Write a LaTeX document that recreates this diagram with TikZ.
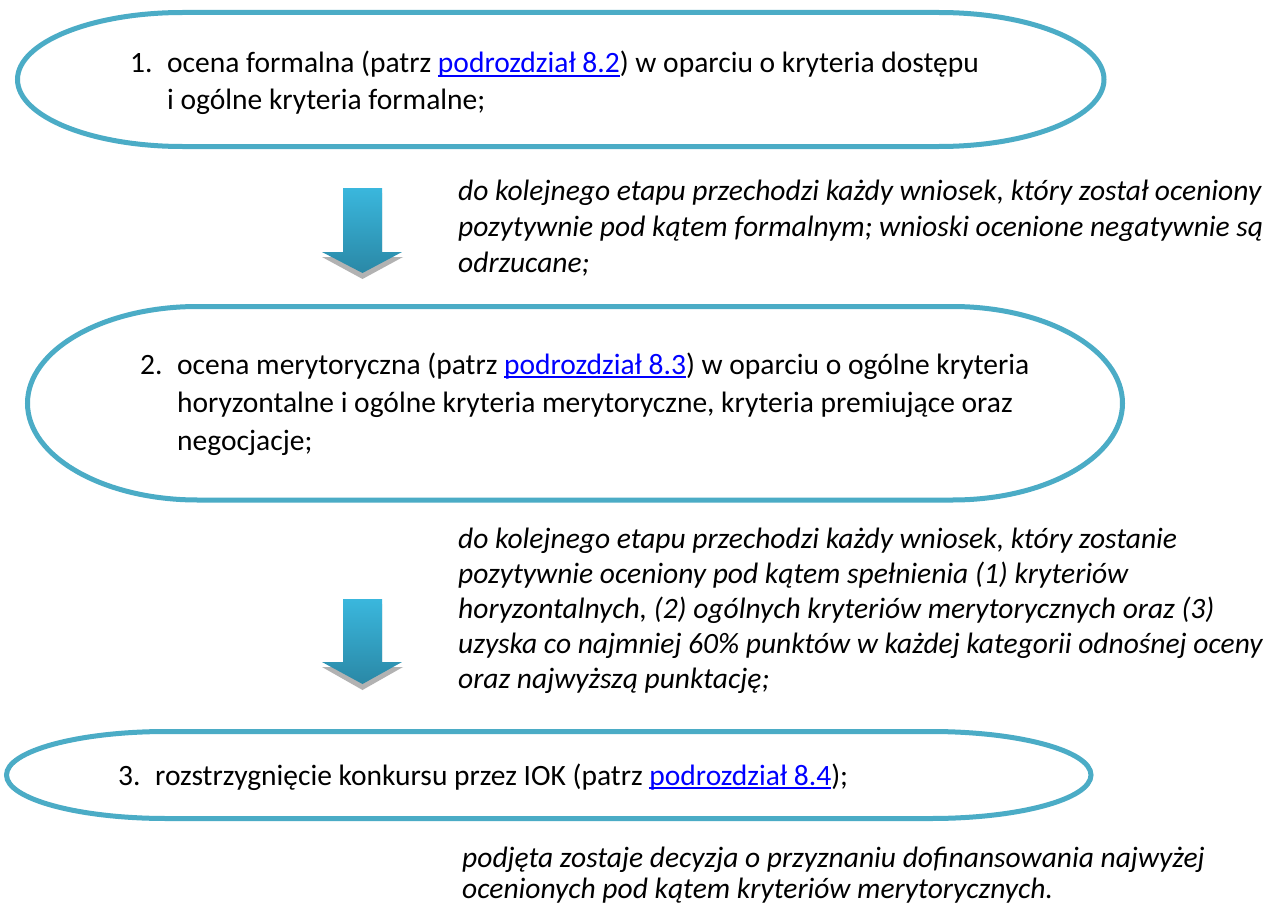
\documentclass[tikz,border=0pt]{standalone}
\usepackage{fontspec}
\setmainfont{Carlito}
\definecolor{ringc}{HTML}{4BACC6}
\definecolor{linkblue}{HTML}{0000FF}
\definecolor{arrtop}{HTML}{3AB7DD}
\definecolor{arrbot}{HTML}{2A88A6}
\newcommand\lnk[1]{{\color{linkblue}\setbox0\hbox{#1}\rlap{\rule[-0.13em]{\wd0}{0.055em}}\box0}}
\newcommand\stadium[5]{%
  \draw[ringline] (#1+#5,#2) -- (#3-#5,#2)
    arc[start angle=-90,end angle=90,x radius=#5,y radius={(#4-#2)/2}]
    -- (#1+#5,#4)
    arc[start angle=90,end angle=270,x radius=#5,y radius={(#4-#2)/2}] -- cycle;}
\tikzset{
  ringline/.style={draw=ringc, line width=5pt},
  txt/.style={anchor=base west, inner sep=0pt, font=\fontsize{29.5}{36}\selectfont, text=black},
  itxt/.style={anchor=base west, inner sep=0pt, font=\fontsize{29.5}{36}\selectfont\itshape, text=black},
  arrowbody/.style={top color=arrtop, bottom color=arrbot, draw=none},
  arrowshadow/.style={fill=black!40, draw=none, opacity=0.75}
}
\begin{document}
\begin{tikzpicture}[x=1pt,y=-1pt]
\useasboundingbox[fill=white] (0,0) rectangle (1270,907);
% stage shapes
\stadium{17.5}{12.5}{1104}{146.5}{165}
\stadium{27.5}{306.5}{1122.5}{500}{170}
\stadium{6.5}{731.5}{1091}{818.5}{160}
% arrows
\fill[arrowshadow] (343,193) -- (382,193) -- (382,257) -- (403,257) -- (362.5,279) -- (322,257) -- (343,257) -- cycle;
\path[arrowbody] (343,188) -- (382,188) -- (382,252) -- (402,252) -- (362.5,273) -- (322,252) -- (343,252) -- cycle;
\fill[arrowshadow] (343,604) -- (382,604) -- (382,667) -- (403,667) -- (362.5,690) -- (322,667) -- (343,667) -- cycle;
\path[arrowbody] (343,599) -- (382,599) -- (382,662) -- (402,662) -- (362.5,684) -- (322,662) -- (343,662) -- cycle;
% stage 1
\node[txt] (n1) at (130,73) {1.};
\node[txt] (t1a) at (167,73) {ocena formalna (patrz \lnk{podrozdział 8.2}) w oparciu o kryteria dostępu};
\node[txt] (t1b) at (167,110) {i ogólne kryteria formalne;};
% stage 2
\node[txt] (n2) at (140,374) {2.};
\node[txt] (t2a) at (177,374) {ocena merytoryczna (patrz \lnk{podrozdział 8.3}) w oparciu o ogólne kryteria};
\node[txt] (t2b) at (177,412) {horyzontalne i ogólne kryteria merytoryczne, kryteria premiujące oraz};
\node[txt] (t2c) at (177,450) {negocjacje;};
% stage 3
\node[txt] (n3) at (118,785) {3.};
\node[txt] (t3) at (155,785) {rozstrzygnięcie konkursu przez IOK (patrz \lnk{podrozdział 8.4});};
% notes
\node[itxt] (c1a) at (458,200) {do kolejnego etapu przechodzi każdy wniosek, który został oceniony};
\node[itxt] (c1b) at (458,236) {pozytywnie pod kątem formalnym; wnioski ocenione negatywnie są};
\node[itxt] (c1c) at (458,272) {odrzucane;};
\node[itxt] (c2a) at (458,548) {do kolejnego etapu przechodzi każdy wniosek, który zostanie};
\node[itxt] (c2b) at (458,583) {pozytywnie oceniony pod kątem spełnienia (1) kryteriów};
\node[itxt] (c2c) at (458,618) {horyzontalnych, (2) ogólnych kryteriów merytorycznych oraz (3)};
\node[itxt] (c2d) at (458,653) {uzyska co najmniej 60\% punktów w każdej kategorii odnośnej oceny};
\node[itxt] (c2e) at (458,688) {oraz najwyższą punktację;};
\node[itxt] (c3a) at (462,867) {podjęta zostaje decyzja o przyznaniu dofinansowania najwyżej};
\node[itxt] (c3b) at (462,898) {ocenionych pod kątem kryteriów merytorycznych.};
\end{tikzpicture}
\end{document}
